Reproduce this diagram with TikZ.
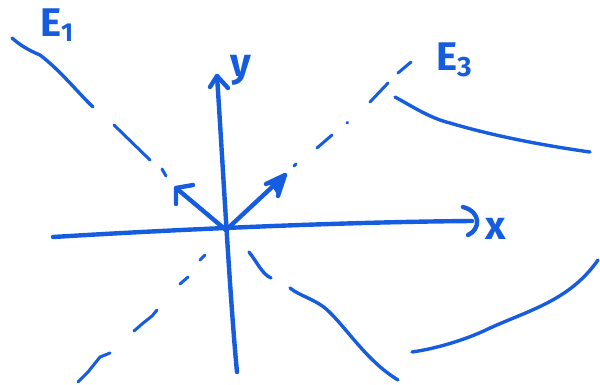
\documentclass[tikz,border=0pt]{standalone}
\usepackage{fontspec}
\setmainfont{Fira Sans}
\definecolor{penblue}{RGB}{22,92,222}
\begin{document}
\begin{tikzpicture}[x=1pt,y=-1pt,
  pen/.style={draw=penblue, line width=4.4pt, line cap=round, line join=round},
  thinpen/.style={draw=penblue, line width=3.4pt, line cap=round, line join=round},
  dashpen/.style={draw=penblue, line width=3pt, line cap=round},
  lbl/.style={text=penblue, inner sep=0pt, font=\fontsize{40}{40}\selectfont\bfseries}]
\useasboundingbox (0,0) rectangle (600,384);
\coordinate (O) at (226,230);
% x axis
\coordinate (xl) at (53,237);
\coordinate (xr) at (472,221);
\draw[pen] (xl) .. controls (150,231) and (330,222) .. (xr);
\draw[pen] (463,207) .. controls (482,212) and (480,230) .. (468,235);
\node[lbl, anchor=west] (xlab) at (485,229) {x};
% y axis
\coordinate (yb) at (237,372);
\coordinate (yt) at (217,76);
\draw[pen] (yb) .. controls (230,300) and (222,150) .. (yt);
\draw[pen] (210,87) -- (yt) -- (228,88);
\node[lbl, anchor=west] (ylab) at (230,70) {y};
% E1 direction
\draw[thinpen] (12,38) .. controls (20,45) and (28,50) .. (40,55) .. controls (60,70) and (80,95) .. (93,107);
\draw[dashpen] (114,125) -- (150,160);
\draw[dashpen] (162,169) -- (166,176);
\coordinate (e1tip) at (176,188);
\draw[pen] (O) -- (e1tip);
\draw[pen] (193,185) -- (e1tip) -- (176,204);
\draw[thinpen] (249,252) .. controls (257,262) and (262,274) .. (271,278);
\draw[thinpen] (290,288) .. controls (300,296) and (312,298) .. (325,308) .. controls (345,325) and (365,360) .. (398,380);
\node[lbl, anchor=west] (e1lab) at (40,25) {E\raisebox{-0.25ex}{\fontsize{26}{26}\selectfont 1}};
% E3 direction
\coordinate (e3tip) at (285,175);
\draw[pen] (O) -- (e3tip);
\fill[penblue] (e3tip) -- (266,184) -- (272,186) -- (278,196) -- cycle;
\draw[pen] (266,184) -- (e3tip) -- (278,196);
\draw[dashpen] (294,166) -- (296,164);
\draw[dashpen] (317,148) -- (332,135);
\draw[dashpen] (347,123) -- (347.5,122.5);
\draw[dashpen] (370,102) -- (388,83);
\draw[dashpen] (398,73) -- (411,62);
\draw[dashpen] (205,255) -- (200,260);
\draw[dashpen] (188,277) -- (180,284);
\draw[dashpen] (157,310) -- (152,316) -- (142,324) -- (134,331);
\draw[dashpen] (110,353) -- (100,357) -- (88,372) -- (78,382);
\node[lbl, anchor=west] (e3lab) at (436,60) {E\raisebox{-0.3ex}{\fontsize{28}{28}\selectfont 3}};
% curves on the right
\draw[thinpen] (395,97) .. controls (415,108) and (430,118) .. (450,123) .. controls (490,135) and (540,145) .. (590,152);
\draw[thinpen] (412,352) .. controls (440,348) and (470,338) .. (490,328) .. controls (530,310) and (570,300) .. (598,260);
\end{tikzpicture}
\end{document}
